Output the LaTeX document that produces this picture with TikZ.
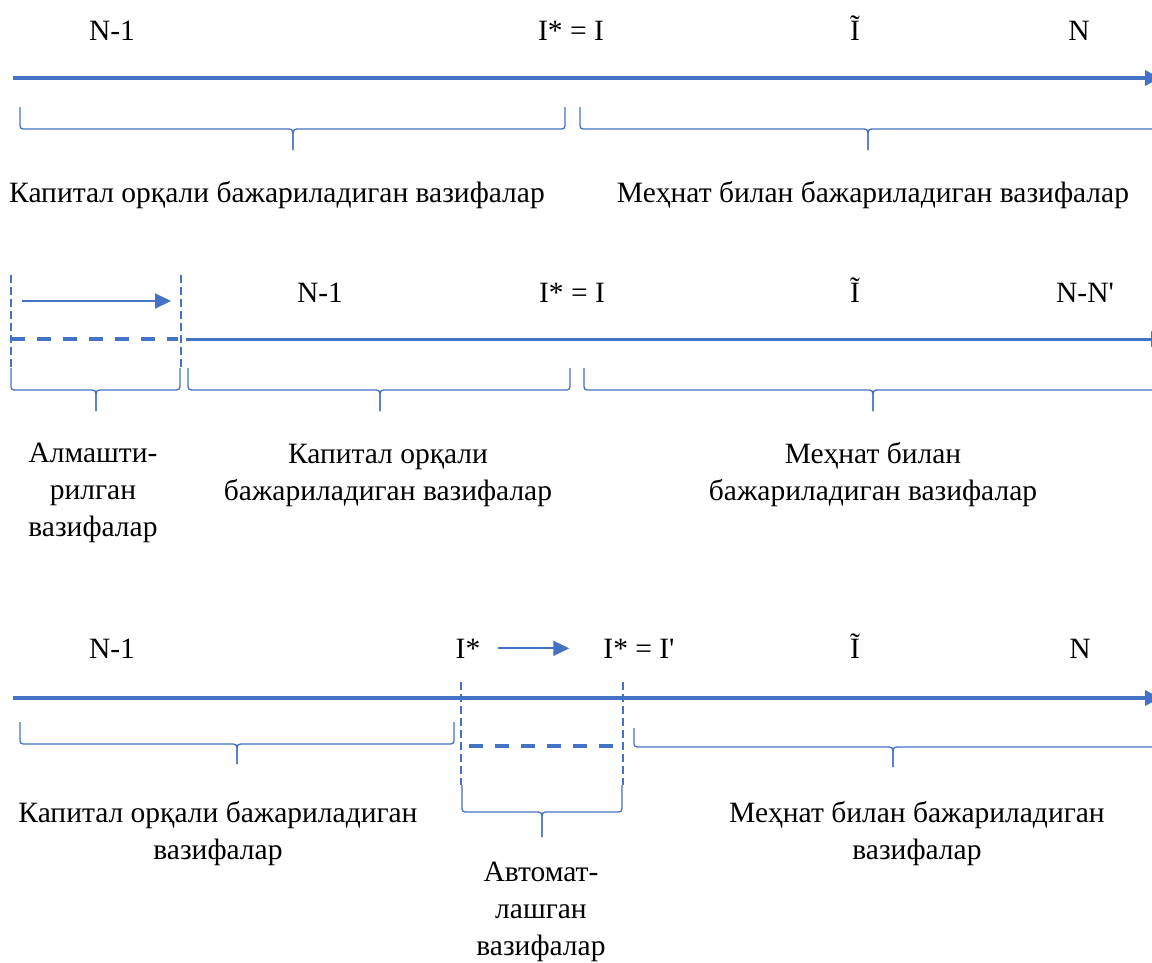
\documentclass[tikz,border=0pt]{standalone}
\usepackage{fontspec}
\setmainfont{Liberation Serif}
\usetikzlibrary{arrows.meta}
\definecolor{wordblue}{HTML}{4472C4}

% curly brace, tip down: left x, right x, top y, line y, tip x, tip y
\newcommand{\wbrace}[6]{%
  \draw[bracestyle] (#1,#3) -- (#1,#4-7) .. controls (#1,#4) .. (#1+7,#4) -- (#5-7,#4) .. controls (#5,#4) .. (#5,#4+9) -- (#5,#6);
  \draw[bracestyle] (#2,#3) -- (#2,#4-7) .. controls (#2,#4) .. (#2-7,#4) -- (#5+7,#4) .. controls (#5,#4) .. (#5,#4+9) -- (#5,#6);
}

\begin{document}
\begin{tikzpicture}[x=1pt, y=-1pt, font=\fontsize{29.5}{37}\selectfont,
  lbl/.style={anchor=base, inner sep=0pt},
  txt/.style={align=center, inner sep=0pt},
  axis/.style={wordblue, line width=4pt, -{Triangle[length=15pt,width=15pt]}},
  smallarrow/.style={wordblue, line width=2pt, -{Triangle[length=16pt,width=15pt]}},
  bracestyle/.style={wordblue, line width=1.3pt},
  thindash/.style={wordblue, line width=1.3pt, dash pattern=on 8pt off 4pt},
  thickdash/.style={wordblue, line width=4pt, dash pattern=on 14pt off 12pt}]
  \useasboundingbox (0,0) rectangle (1152,962);

  \node[lbl] (nonea) at (112,40) {N-1};
  \node[lbl] (istara) at (571,40) {I* = I};
  \node[lbl] (itila) at (855,40) {Ĩ};
  \node[lbl] (na) at (1079,40) {N};
  \draw[axis] (13,78) -- (1160,78);
  \wbrace{20}{565}{107}{129}{293}{150}
  \wbrace{580}{1175}{107}{129}{868}{150}
  \node[txt] (capa) at (277,195) {Капитал орқали бажариладиган вазифалар};
  \node[txt] (laba) at (873,195) {Меҳнат билан бажариладиган вазифалар};

  \coordinate (subl) at (22,301);
  \coordinate (subr) at (171,301);
  \draw[thindash] (11,275) -- (11,368);
  \draw[thindash] (181,275) -- (181,368);
  \draw[smallarrow] (subl) -- (subr);
  \draw[thickdash] (11,339) -- (178,339);
  \draw[axis, line width=3pt] (186,339) -- (1166,339);
  \node[lbl] (noneb) at (320,302) {N-1};
  \node[lbl] (istarb) at (572,302) {I* = I};
  \node[lbl] (itilb) at (855,302) {Ĩ};
  \node[lbl] (nb) at (1085,302) {N-N\textquotesingle};
  \wbrace{11}{180}{368}{390}{96}{411}
  \wbrace{188}{570}{368}{390}{380}{411}
  \wbrace{584}{1175}{368}{390}{873}{411}
  \node[txt] (subst) at (93,493) {Алмашти-\\рилган\\вазифалар};
  \node[txt] (capb) at (388,475) {Капитал орқали\\бажариладиган вазифалар};
  \node[txt] (labb) at (873,475) {Меҳнат билан\\бажариладиган вазифалар};

  \node[lbl] (nonec) at (112,658) {N-1};
  \node[lbl] (istarc) at (468,658) {I*};
  \node[lbl] (istarn) at (639,658) {I* = I\textquotesingle};
  \node[lbl] (itilc) at (855,658) {Ĩ};
  \node[lbl] (nc) at (1080,658) {N};
  \draw[smallarrow, shorten <=18pt, shorten >=34pt] (istarc) -- (istarn);
  \draw[axis] (13,698) -- (1160,698);
  \draw[thindash] (461,682) -- (461,785);
  \draw[thindash] (623,682) -- (623,785);
  \draw[thickdash] (469,746) -- (619,746);
  \wbrace{20}{454}{722}{744}{237}{764}
  \wbrace{462}{622}{785}{812}{542}{837}
  \wbrace{634}{1175}{728}{747}{893}{767}
  \node[txt] (capc) at (218,834) {Капитал орқали бажариладиган\\вазифалар};
  \node[txt] (autoc) at (541,912) {Автомат-\\лашган\\вазифалар};
  \node[txt] (labc) at (917,834) {Меҳнат билан бажариладиган\\вазифалар};
\end{tikzpicture}
\end{document}
